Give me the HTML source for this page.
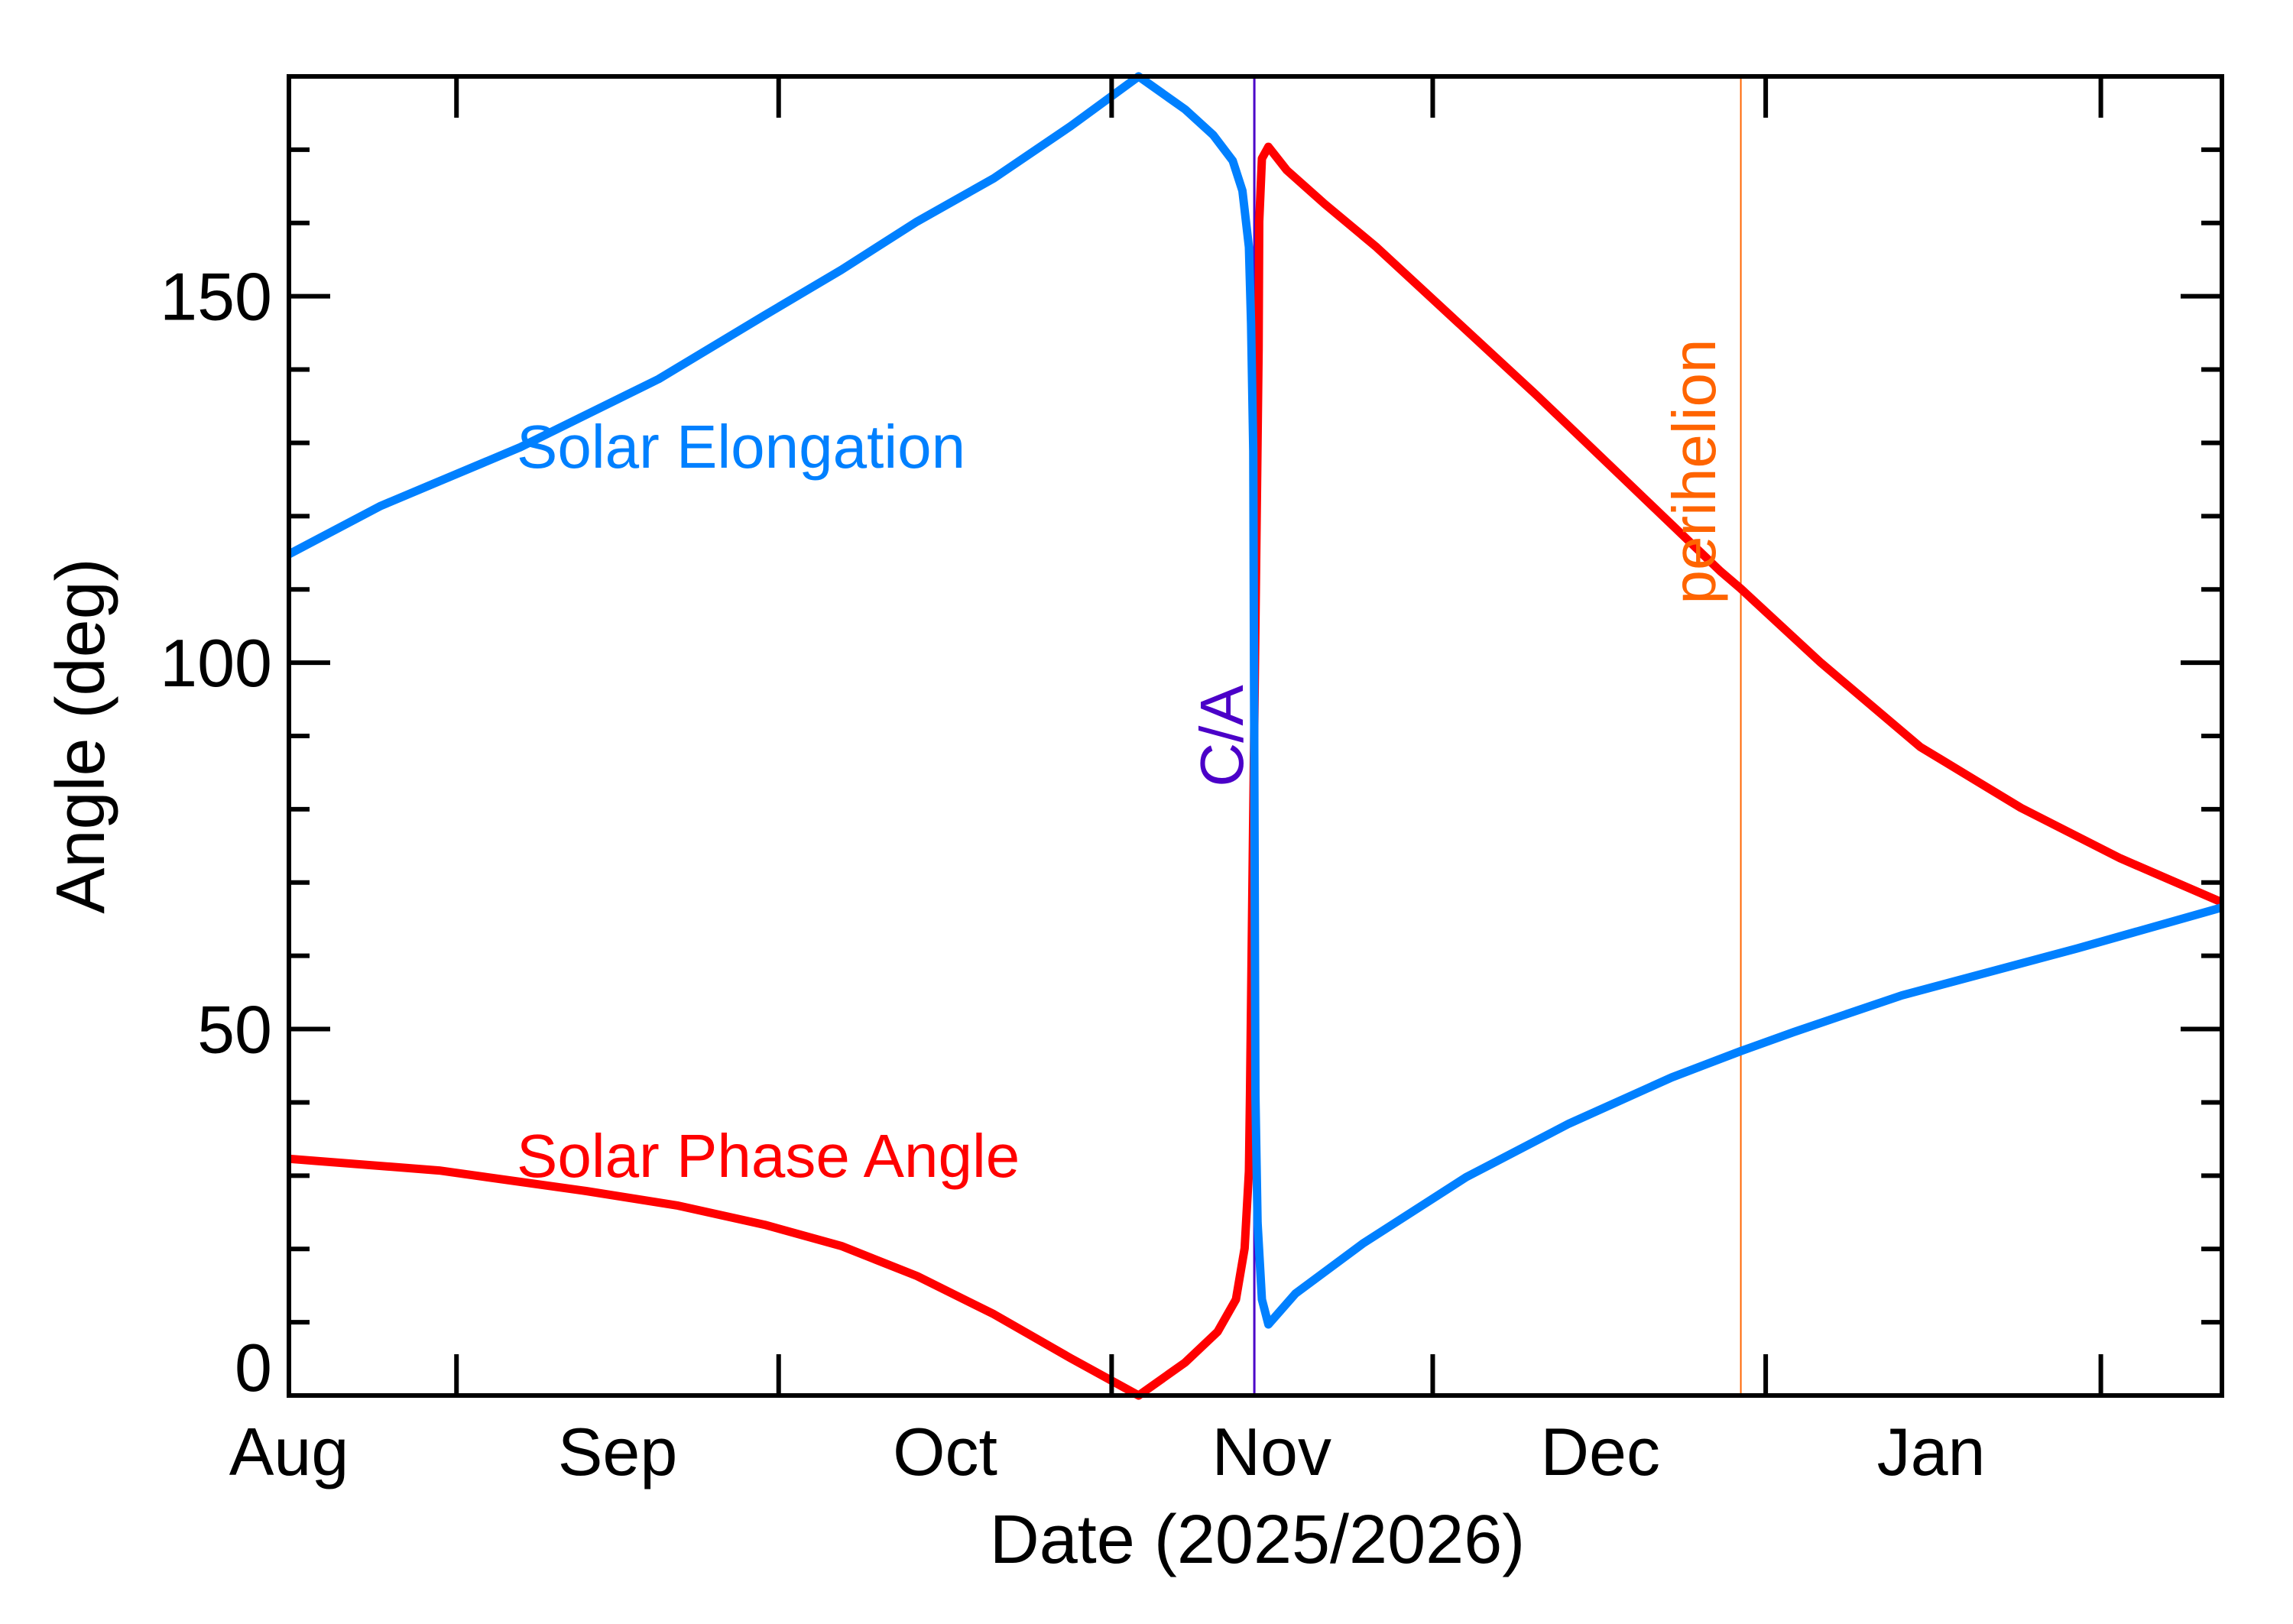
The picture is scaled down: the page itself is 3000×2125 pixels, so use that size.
<!DOCTYPE html>
<html><head><meta charset="utf-8"><style>
html,body{margin:0;padding:0;background:#fff;}
svg{display:block;font-family:"Liberation Sans",sans-serif;}
</style></head><body>
<svg id="chart" width="3000" height="2125" viewBox="0 0 3000 2125" xmlns="http://www.w3.org/2000/svg"></svg>
<script>
const elongDays=[0,8.5,21.4,34.2,44.0,51.1,58.1,65.2,72.3,78.6,82.9,85.5,87.3,88.2,88.8,89.0,89.2,89.4,89.6,90.0,90.6,93.1,99.4,108.9,118.4,127.9,134.3,139.2,149.2,165.4,178.8];
const elongVals=[114.8,121.4,129.4,138.7,147.4,153.6,160.2,166.1,173.2,180,175.5,172.0,168.5,164.4,156.7,146.3,128.9,41,23.6,13.1,9.7,13.9,20.8,29.8,37.1,43.4,47.0,49.6,54.6,61,66.6];
const phaseDays=[0,13.9,27.5,36,44.0,51.1,58.1,65.2,72.3,78.6,82.9,85.9,87.6,88.4,88.8,88.9,89.7,89.75,90.0,90.6,92.3,95.8,100.6,115.4,132.4,134.3,141.7,150.9,160.2,169.4,178.8];
const phaseVals=[32.3,30.7,27.9,25.9,23.3,20.4,16.3,11.1,5.1,0,4.5,8.7,13.1,20.1,30.6,41,142.8,160.2,168.8,170.4,167.2,162.6,156.7,136.5,112.5,110.1,100.0,88.5,80.2,73.3,67.3];
const monthLabels=["Aug","Sep","Oct","Nov","Dec","Jan"];
const monthLabelDays=[0,30.4,60.7,90.9,121.3,151.9];
const midMonthDays=[15.5,45.3,76.1,105.8,136.6,167.6];
const yTickLabels=[0,50,100,150];
const caDay=89.3, periDay=134.3;

const L=378,R=2907,T=100,B=1826,D0=0,D1=178.8,Y0=0,Y1=180;
const xs=d=>L+(d-D0)/(D1-D0)*(R-L);
const ys=v=>B-(v-Y0)/(Y1-Y0)*(B-T);
const svg=document.getElementById('chart');
const NS="http://www.w3.org/2000/svg";
function mk(tag,attrs,parent){const e=document.createElementNS(NS,tag);for(const k in attrs)e.setAttribute(k,attrs[k]);(parent||svg).appendChild(e);return e;}

let ca=mk('line',{x1:xs(caDay),x2:xs(caDay),y1:T,y2:B,stroke:'#4b00c8','stroke-width':3});


let pl=mk('line',{x1:xs(periDay),x2:xs(periDay),y1:T,y2:B,stroke:'#ff6400','stroke-width':2});



function series(days,vals,color,name){
  const p=days.map((d,i)=>(i?'L':'M')+xs(d).toFixed(1)+' '+ys(vals[i]).toFixed(1)).join(' ');
  const e=mk('path',{d:p,fill:'none',stroke:color,'stroke-width':11,'stroke-linejoin':'round'});
  
  
}
series(phaseDays,phaseVals,'#ff0000','solar-phase-angle-line');
series(elongDays,elongVals,'#0080ff','solar-elongation-line');

let fr=mk('rect',{x:L,y:T,width:R-L,height:B-T,fill:'none',stroke:'#000','stroke-width':6});



for(let v=0;v<=180;v+=10){
  const y=ys(v), len=(v%50===0)?54:27;
  let t1=mk('line',{x1:L,x2:L+len,y1:y,y2:y,stroke:'#000','stroke-width':6});
  
  
  let t2=mk('line',{x1:R,x2:R-len,y1:y,y2:y,stroke:'#000','stroke-width':6});
  
  
}
yTickLabels.forEach(v=>{
  let t=mk('text',{x:L-22,y:ys(v)+(v===0?-6:31),'text-anchor':'end','font-size':88,fill:'#000'});
  t.textContent=v;
  
  
});
midMonthDays.forEach(d=>{
  const x=xs(d);
  let a=mk('line',{x1:x,x2:x,y1:B,y2:B-54,stroke:'#000','stroke-width':6});
  
  
  let b=mk('line',{x1:x,x2:x,y1:T,y2:T+54,stroke:'#000','stroke-width':6});
  
  
});
monthLabels.forEach((m,i)=>{
  let t=mk('text',{x:xs(monthLabelDays[i]),y:1930,'text-anchor':'middle','font-size':88,fill:'#000'});
  t.textContent=m;
  
  
});
let xt=mk('text',{x:1645,y:2045,'text-anchor':'middle','font-size':90,fill:'#000'});
xt.textContent='Date (2025/2026)';


let yt=mk('text',{x:0,y:0,transform:'translate(136,963) rotate(-90)','text-anchor':'middle','font-size':90,fill:'#000'});
yt.textContent='Angle (deg)';


let l1=mk('text',{x:676,y:612,'font-size':80,fill:'#0080ff'});
l1.textContent='Solar Elongation';


let l2=mk('text',{x:676,y:1540,'font-size':80,fill:'#ff0000'});
l2.textContent='Solar Phase Angle';


let l3=mk('text',{x:0,y:0,transform:'translate(1626,963) rotate(-90)','text-anchor':'middle','font-size':80,fill:'#4b00c8'});
l3.textContent='C/A';


let l4=mk('text',{x:0,y:0,transform:'translate(2244,617) rotate(-90)','text-anchor':'middle','font-size':80,fill:'#ff6400'});
l4.textContent='perihelion';


</script>
</body></html>
